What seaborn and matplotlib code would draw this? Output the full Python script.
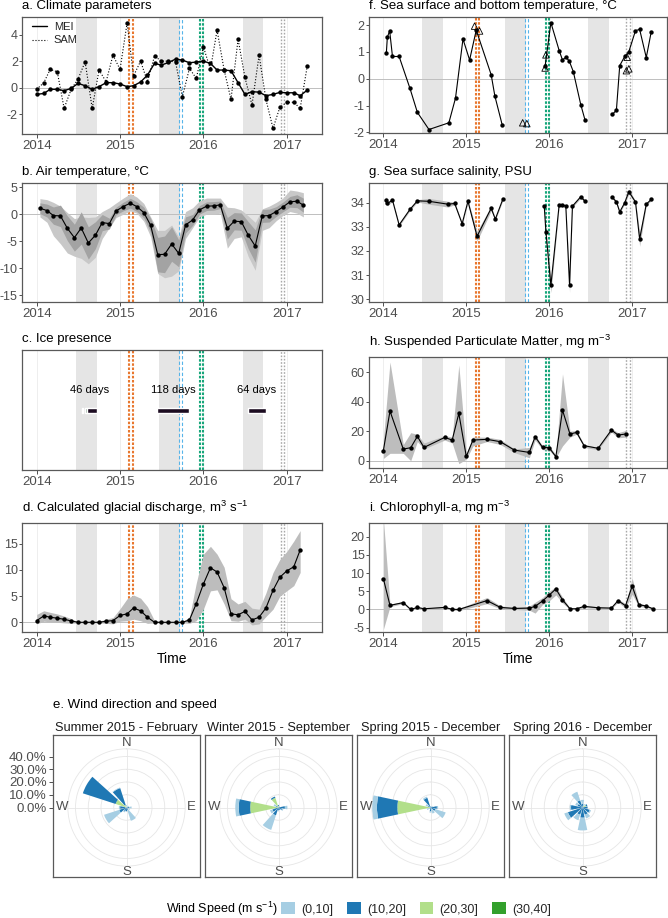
import numpy as np
import pandas as pd
import seaborn as sns
import matplotlib.pyplot as plt
from matplotlib.lines import Line2D
from matplotlib.patches import Patch

sns.set_theme(style='white')
plt.rcParams['font.family'] = ['Liberation Sans', 'DejaVu Sans']
plt.rcParams['mathtext.default'] = 'regular'
plt.rcParams['axes.unicode_minus'] = False

W, H = 668, 918

# ---------------- data ----------------
year_ticks = [2014, 2015, 2016, 2017]
winter_start = [2014.47, 2015.47, 2016.47]
winter_end = [2014.72, 2015.72, 2016.72]

# wind periods (Feb 2015, Sep 2015, Dec 2015, Dec 2016)
period_start = [2015.112, 2015.703, 2015.956, 2016.928]
period_end = [2015.153, 2015.743, 2015.996, 2016.968]
period_color = ['#E8772E', '#56B4E9', '#16A67A', '#A8A8A8']
period_style = [(0, (1.2, 0.8)), (0, (3, 2)), (0, (1.2, 0.8)), (0, (1.2, 1.2))]
period_lw = [1.5, 0.8, 1.5, 1.0]

# a. climate indices, monthly from Jan 2014
mei = [-0.5, -0.43, -0.12, -0.12, -0.22, -0.05, 0.33, 0.15, -0.12, 0.08,
       0.38, 0.38, 0.28, 0.08, 0.15, 0.43, 0.95, 1.83, 1.7, 1.9,
       2.15, 2.08, 1.88, 1.93, 2.0, 1.83, 1.33, 1.33, 1.28, 0.38,
       -0.5, -0.3, -0.33, -0.6, -0.5, -0.35, -0.38, -0.38, -0.6, -0.18]
sam = [-0.12, 0.38, 1.38, 1.2, -1.55, -0.12, 0.65, 1.95, -1.55, 1.33,
       0.45, 2.45, 1.38, 4.88, 0.88, 2.0, 0.45, 2.38, 2.0, 2.0,
       1.95, -0.68, 1.45, 0.7, 3.08, 1.38, 4.33, 1.33, -0.88, 3.65,
       0.78, -1.3, 2.45, -0.88, -3.05, -1.48, -1.1, -1.1, -1.55, 1.63]

# b. air temperature, monthly means (mid-month) Jan 2014 - Mar 2017
air = [1.12, 0.68, -0.25, -0.31, -2.6, -4.35, -2.55, -5.34, -3.9, -1.55,
       -1.74, 0.62, 1.43, 2.05, 1.43, 0.31, -2.05, -7.5, -7.45, -5.53,
       -7.27, -1.99, -1.06, 0.81, 1.49, 1.55, 1.74, -2.6, -1.3, -1.37,
       -3.85, -5.9, -0.31, -0.25, 0.5, 1.37, 2.3, 2.42, 1.68]
air_lo = [-0.5, -1.5, -4.0, -5.5, -7.2, -7.8, -8.2, -9.2, -8.0, -4.5,
          -2.5, -0.6, 0.0, 0.6, 0.2, -1.3, -4.2, -11.0, -11.8, -11.5,
          -10.5, -4.5, -2.5, -0.5, 0.0, 0.0, 0.2, -6.3, -4.5, -4.2,
          -7.8, -10.4, -3.0, -2.5, -1.2, -0.2, 0.5, 0.2, -0.5]
air_hi = [2.9, 2.7, 2.2, 1.5, 0.3, -0.8, -0.5, -0.6, -0.5, 0.5,
          1.2, 2.1, 3.0, 3.8, 3.2, 2.0, -0.5, -3.0, -3.0, -2.0,
          -4.2, 0.5, 1.2, 2.5, 3.0, 3.0, 3.0, 1.3, 1.2, 0.8,
          -0.3, -1.5, 1.0, 1.5, 2.2, 3.0, 4.5, 4.3, 4.0]
air_sd = [1.0, 1.2, 1.6, 2.0, 2.3, 2.5, 3.0, 3.0, 2.5, 1.5,
          1.0, 0.7, 0.8, 0.9, 0.9, 1.0, 1.3, 3.2, 3.4, 3.2,
          2.5, 1.5, 1.0, 0.8, 0.8, 0.8, 0.7, 2.0, 1.6, 1.6,
          2.5, 3.0, 1.2, 1.2, 0.9, 0.9, 1.0, 1.2, 1.3]

# c. ice presence periods
ice_start = [2014.432, 2014.540, 2014.580, 2014.608, 2014.748, 2015.448, 2016.540]
ice_end = [2014.448, 2014.560, 2014.600, 2014.720, 2014.760, 2015.828, 2016.750]
ice_color = ['#B5B5B5', '#2A1830', '#6F8F78', '#1C0C21', '#B5B5B5', '#1C0C21', '#1C0C21']
ice_label = ['46 days', '118 days', '64 days']
ice_label_x = [2014.64, 2015.64, 2016.64]

# d. glacial discharge, monthly Jan 2014 - Mar 2017
dis = [0.32, 1.23, 0.97, 0.78, 0.58, 0.26, 0, 0, 0, 0,
       0.2, 0.32, 1.3, 1.62, 2.73, 2.2, 0.97, 0, 0, 0,
       0, 0, 0.45, 3.57, 7.3, 10.4, 9.6, 6.6, 1.62, 1.43,
       2.08, 0.45, 0.97, 2.73, 6.1, 8.6, 9.8, 10.6, 13.8]
dis_lo = [-0.3, 0.2, 0.1, 0.0, -0.1, -0.2, -0.1, -0.1, -0.1, -0.1,
          -0.2, -0.3, 0.2, 0.3, 0.6, 0.3, -0.2, -0.1, -0.1, -0.1,
          -0.1, -0.1, -0.2, 0.3, 2.5, 6.0, 6.2, 3.5, 0.3, 0.2,
          0.6, -0.5, -0.3, 1.1, 2.5, 5.0, 6.0, 7.0, 9.5]
dis_hi = [1.5, 2.2, 1.9, 1.6, 1.2, 0.7, 0.1, 0.1, 0.1, 0.2,
          0.6, 0.9, 2.6, 4.5, 5.2, 4.6, 3.0, 0.3, 0.1, 0.1,
          0.1, 0.1, 1.0, 7.5, 13.0, 14.5, 13.0, 10.5, 4.5, 3.5,
          4.0, 2.7, 2.5, 5.6, 9.5, 12.0, 13.5, 15.5, 17.5]

# f. sea surface temperature (filled) and bottom temperature (triangles)
sst_t = [2014.036, 2014.048, 2014.076, 2014.11, 2014.19, 2014.32, 2014.41, 2014.55,
         2014.79, 2014.87, 2014.96, 2015.04, 2015.12, 2015.30, 2015.345, 2015.434,
         2015.95, 2016.02, 2016.12, 2016.16, 2016.20, 2016.24, 2016.29, 2016.38, 2016.43,
         2016.76, 2016.81, 2016.85, 2016.91, 2016.96, 2017.04, 2017.09, 2017.17, 2017.23]
sst_v = [0.95, 1.54, 1.79, 0.83, 0.83, -0.35, -1.25, -1.89,
         -1.64, -0.72, 1.48, 0.70, 1.81, 0.15, -0.65, -1.73,
         0.46, 2.09, 1.05, 0.70, 0.80, 0.67, 0.27, -0.96, -1.52,
         -1.33, -1.17, 0.49, 0.83, 1.01, 1.79, 1.84, 0.79, 1.75]
sst_seg = [0] * 16 + [1] * 9 + [2] * 9
bt_t = [2015.10, 2015.16, 2015.68, 2015.73, 2015.95, 2015.96, 2016.93, 2016.96, 2016.94]
bt_v = [1.96, 1.78, -1.64, -1.67, 0.40, 0.89, 0.30, 0.37, 0.80]

# g. sea surface salinity
sal_t = [2014.03, 2014.05, 2014.11, 2014.19, 2014.32, 2014.41, 2014.55, 2014.78,
         2014.86, 2014.95, 2015.02, 2015.13, 2015.30, 2015.35, 2015.44,
         2015.94, 2015.96, 2016.02, 2016.12, 2016.16, 2016.20, 2016.245, 2016.28,
         2016.38, 2016.43,
         2016.76, 2016.81, 2016.85, 2016.91, 2016.96, 2017.04, 2017.09, 2017.17, 2017.23]
sal_v = [34.11, 33.97, 34.11, 33.08, 33.72, 34.08, 34.06, 33.94,
         33.97, 33.13, 34.06, 32.61, 33.77, 33.32, 34.14,
         33.86, 32.8, 30.57, 33.92, 33.92, 33.86, 30.57, 33.86,
         34.25, 34.07,
         34.22, 34.04, 33.62, 34.0, 34.46, 34.03, 32.49, 33.94, 34.14]
sal_sd = [0.15, 0.1, 0.05, 0.05, 0.05, 0.05, 0.12, 0.12,
          0.05, 0.05, 0.05, 0.2, 0.1, 0.05, 0.05,
          0.05, 0.1, 0.3, 0.05, 0.05, 0.05, 0.3, 0.05,
          0.05, 0.05,
          0.05, 0.05, 0.05, 0.05, 0.1, 0.05, 0.3, 0.05, 0.05]
sal_seg = [0] * 15 + [1] * 10 + [2] * 9

# h. suspended particulate matter
spm_t = [2014.0, 2014.08, 2014.24, 2014.33, 2014.41, 2014.49, 2014.74, 2014.83, 2014.91,
         2015.0, 2015.08, 2015.25, 2015.41, 2015.58, 2015.76, 2015.83, 2015.92, 2016.0,
         2016.08, 2016.16, 2016.25, 2016.33, 2016.42, 2016.59, 2016.75, 2016.83, 2016.92]
spm_v = [6.8, 33.7, 7.9, 8.8, 16.5, 9.0, 15.8, 14.0, 32.1,
         2.9, 14.0, 14.5, 12.9, 7.2, 5.6, 16.3, 9.0, 8.8,
         2.7, 34.3, 18.1, 19.2, 10.2, 8.4, 20.8, 17.4, 18.1]
spm_lo = [1.5, 5, 5, 0, 13, 8, 14, 12, -2,
          1, 10, 13, 11, 5.5, 2, 14, 7.5, 7,
          2, 10, 16, 18, 9, 7.5, 19.5, 15.5, 16]
spm_hi = [14, 67, 11, 19, 18, 12, 17, 16, 65,
          5, 16, 16, 14.5, 8, 9, 17.5, 10, 10,
          4, 59, 20, 20.5, 11, 9, 22, 19, 20.5]

# i. chlorophyll-a
chl_t = [2014.0, 2014.08, 2014.24, 2014.33, 2014.41, 2014.49, 2014.74, 2014.83, 2014.91,
         2015.25, 2015.41, 2015.58, 2015.76, 2015.83, 2015.92, 2016.0, 2016.08, 2016.16,
         2016.25, 2016.33, 2016.42, 2016.59, 2016.75, 2016.83, 2016.92, 2017.0, 2017.08,
         2017.17, 2017.25]
chl_v = [8.5, 1.13, 1.89, 0.0, 0.57, 0.19, 0.57, 0.05, 0.0,
         2.45, 0.57, 0.28, 0.38, 0.85, 2.36, 3.96, 5.66, 2.64,
         0.19, 0.19, 0.85, 0.47, 0.38, 2.45, 1.04, 6.42, 1.32,
         0.94, 0.19]
chl_lo = [-5.5, 0.8, 1.6, -0.2, 0.4, 0.0, 0.4, -0.15, -0.3,
          1.6, 0.2, 0.0, -0.2, -1.0, 1.4, 2.4, 4.0, 1.8,
          0.0, 0.0, 0.5, 0.3, 0.2, 2.0, 0.4, 4.2, 0.8,
          0.6, 0.0]
chl_hi = [25.0, 1.5, 2.2, 0.2, 0.8, 0.4, 0.8, 0.25, 0.3,
          3.3, 1.0, 0.6, 0.9, 2.0, 3.3, 5.0, 6.3, 3.4,
          0.4, 0.4, 1.2, 0.7, 0.6, 2.9, 1.6, 8.6, 1.8,
          1.2, 0.4]

# e. wind roses: % of time per direction sector, rows = speed classes
wind_dirs = [0, 30, 60, 90, 120, 150, 180, 210, 240, 270, 300, 330]
speed_bins = ['(0,10]', '(10,20]', '(20,30]', '(30,40]']
speed_colors = ['#A6CEE3', '#1F78B4', '#B2DF8A', '#33A02C']
wind_feb2015 = [[2, 1, 2, 2, 2, 9, 0, 1, 12.5, 1, 0, 0.5],
                [0, 0, 0, 2, 1, 2, 3, 3, 6, 4, 27, 14],
                [0, 0, 0, 0, 0, 0, 0, 0, 0, 1, 9, 2],
                [0, 0, 0, 0, 0, 0, 0, 0, 0, 0, 0, 0]]
wind_sep2015 = [[0, 1, 0, 2, 1, 0, 1, 12, 2, 2.7, 2, 0],
                [1, 0, 1, 5, 3, 2, 2, 6.5, 5, 9, 1, 1],
                [1, 0, 0, 0, 0, 0, 0, 0, 0, 21.7, 1, 8],
                [0, 0, 0, 0, 0, 0, 0, 0, 0, 0.5, 0, 0]]
wind_dec2015 = [[0, 0, 1, 1, 8.5, 4, 1, 0, 2, 3.7, 2, 1],
                [1, 0, 1, 5, 4, 1, 3, 1, 1, 16, 1, 8],
                [0, 0, 0, 0, 0, 0, 0, 0, 0, 26, 1, 0],
                [0, 0, 0, 0, 0, 0, 0, 0, 0, 0, 0, 0]]
wind_dec2016 = [[3, 2, 0, 0, 1, 3, 10, 4.5, 3, 1, 2, 7],
                [3, 0, 1, 4, 6, 6, 8, 6, 12, 9, 4, 6],
                [0, 1, 3, 0, 0, 0, 0, 0, 0, 0, 0, 0],
                [0, 0, 0, 0, 0, 0, 0, 0, 0, 0, 0, 0]]
wind_titles = ['Summer 2015 - February', 'Winter 2015 - September',
               'Spring 2015 - December', 'Spring 2016 - December']


def decyear(d):
    return np.asarray(d.year + (d.dayofyear - 1) / 365.0, dtype=float)


t_clim = decyear(pd.date_range('2014-01-01', periods=40, freq='MS'))
t_air = decyear(pd.date_range('2014-01-01', periods=39, freq='MS') + pd.Timedelta(days=14))
t_dis = decyear(pd.date_range('2014-01-01', periods=39, freq='MS'))


def px_rect(x0, y0, x1, y1):
    return [x0 / W, 1 - y1 / H, (x1 - x0) / W, (y1 - y0) / H]


def style_ts(ax, title, ylim, yticks, pad=5.5, zero=True, time_label=False):
    for s, e in zip(winter_start, winter_end):
        ax.axvspan(s, e, color='#E5E5E5', lw=0, zorder=0)
    for yr in year_ticks:
        ax.axvline(yr, color='#EBEBEB', lw=0.6, zorder=0.5)
    if zero:
        ax.axhline(0, color='#BEBEBE', lw=0.7, zorder=1)
    for s, e, c, ls, lw in zip(period_start, period_end, period_color, period_style, period_lw):
        for xv in (s, e):
            ax.axvline(xv, color=c, ls=ls, lw=lw, zorder=1.5)
    ax.set_xlim(2013.827, 2017.42)
    ax.set_ylim(*ylim)
    ax.set_xticks(year_ticks)
    ax.set_xticklabels([str(y) for y in year_ticks])
    ax.set_yticks(yticks)
    ax.set_yticklabels([str(v) for v in yticks])
    ax.set_title(title, loc='left', fontsize=9.5, pad=pad, color='black')
    ax.set_ylabel('')
    if time_label:
        ax.set_xlabel('Time', fontsize=10, labelpad=1, color='black')
    else:
        ax.set_xlabel('')
    ax.tick_params(axis='x', direction='out', length=3, width=0.6, color='#333333',
                   labelcolor='#4D4D4D', labelsize=9.5, pad=1.5, bottom=True)
    ax.tick_params(axis='y', direction='out', length=2.2, width=0.6, color='#333333',
                   labelcolor='#4D4D4D', labelsize=9, pad=1, left=True)
    for sp in ax.spines.values():
        sp.set_color('#595959')
        sp.set_linewidth(0.9)


def points(ax, x, y):
    sns.scatterplot(x=x, y=y, color='black', s=10, linewidth=0, ax=ax, zorder=4)


fig = plt.figure(figsize=(W / 100, H / 100), dpi=100)

# ---- a. climate parameters ----
ax = fig.add_axes(px_rect(22.3, 17, 321.7, 134))
sns.lineplot(x=t_clim, y=mei, color='black', lw=1.0, estimator=None, ax=ax, zorder=3)
sns.lineplot(x=t_clim, y=sam, color='black', lw=0.8, ls=':', estimator=None, ax=ax, zorder=3)
points(ax, t_clim, mei)
points(ax, t_clim, sam)
style_ts(ax, 'a. Climate parameters', (-3.48, 5.32), [-2, 0, 2, 4])
ax.legend(handles=[Line2D([], [], color='black', lw=1.0),
                   Line2D([], [], color='black', lw=0.8, ls=':')],
          labels=['MEI', 'SAM'], loc='upper left', bbox_to_anchor=(0.024, 0.98),
          frameon=False, fontsize=8, handlelength=1.4, handletextpad=0.6,
          labelspacing=0.35, borderaxespad=0, borderpad=0.2)

# ---- b. air temperature ----
ax = fig.add_axes(px_rect(22.3, 183, 321.7, 302))
ax.fill_between(t_air, air_lo, air_hi, color='#C8C8C8', lw=0, zorder=2)
ax.fill_between(t_air, np.array(air) - np.array(air_sd), np.array(air) + np.array(air_sd),
                color='#A3A3A3', lw=0, zorder=2.2)
sns.lineplot(x=t_air, y=air, color='black', lw=0.8, estimator=None, ax=ax, zorder=3)
points(ax, t_air, air)
style_ts(ax, 'b. Air temperature, °C', (-16.3, 5.8), [-15, -10, -5, 0, 5])

# ---- c. ice presence ----
ax = fig.add_axes(px_rect(22.3, 350, 321.7, 470))
for s, e, c in zip(ice_start, ice_end, ice_color):
    ax.broken_barh([(s, e - s)], (0.473, 0.042), facecolors=c, zorder=3)
for lab, xv in zip(ice_label, ice_label_x):
    ax.text(xv, 0.667, lab, ha='center', va='center', fontsize=8, color='black', zorder=4)
style_ts(ax, 'c. Ice presence', (0, 1), [], zero=False)
ax.tick_params(left=False)

# ---- d. glacial discharge ----
ax = fig.add_axes(px_rect(22.3, 523, 321.7, 632))
ax.fill_between(t_dis, dis_lo, dis_hi, color='#BDBDBD', lw=0, zorder=2)
sns.lineplot(x=t_dis, y=dis, color='black', lw=0.8, estimator=None, ax=ax, zorder=3)
points(ax, t_dis, dis)
style_ts(ax, r'd. Calculated glacial discharge, m$^3$ s$^{-1}$', (-1.85, 18.95),
         [0, 5, 10, 15], pad=8, time_label=True)

# ---- f. sea surface and bottom temperature ----
ax = fig.add_axes(px_rect(369, 17, 667, 133))
sst_df = pd.DataFrame({'t': sst_t, 'v': sst_v, 'seg': sst_seg})
sns.lineplot(data=sst_df, x='t', y='v', units='seg', estimator=None, sort=False,
             color='black', lw=0.8, ax=ax, zorder=3)
points(ax, sst_t, sst_v)
sns.scatterplot(x=bt_t, y=bt_v, marker='^', s=22, color='none', edgecolor='black',
                linewidth=0.6, ax=ax, zorder=4)
style_ts(ax, 'f. Sea surface and bottom temperature, °C', (-2.02, 2.3), [-2, -1, 0, 1, 2])

# ---- g. salinity ----
ax = fig.add_axes(px_rect(369, 183, 667, 302))
sal_df = pd.DataFrame({'t': sal_t, 'v': sal_v, 'sd': sal_sd, 'seg': sal_seg})
for seg, part in sal_df.groupby('seg'):
    ax.fill_between(part['t'], part['v'] - part['sd'], part['v'] + part['sd'],
                    color='#BDBDBD', lw=0, zorder=2)
sns.lineplot(data=sal_df, x='t', y='v', units='seg', estimator=None, sort=False,
             color='black', lw=0.8, ax=ax, zorder=3)
points(ax, sal_t, sal_v)
style_ts(ax, 'g. Sea surface salinity, PSU', (29.88, 34.82), [30, 31, 32, 33, 34], zero=False)

# ---- h. SPM ----
ax = fig.add_axes(px_rect(369, 357, 667, 468))
ax.fill_between(spm_t, spm_lo, spm_hi, color='#BDBDBD', lw=0, zorder=2)
sns.lineplot(x=spm_t, y=spm_v, color='black', lw=0.8, estimator=None, ax=ax, zorder=3)
points(ax, spm_t, spm_v)
style_ts(ax, r'h. Suspended Particulate Matter, mg m$^{-3}$', (-4.96, 70.4),
         [0, 20, 40, 60], pad=8)

# ---- i. chlorophyll ----
ax = fig.add_axes(px_rect(369, 523, 667, 632))
ax.fill_between(chl_t, chl_lo, chl_hi, color='#BDBDBD', lw=0, zorder=2)
sns.lineplot(x=chl_t, y=chl_v, color='black', lw=0.8, estimator=None, ax=ax, zorder=3)
points(ax, chl_t, chl_v)
style_ts(ax, r'i. Chlorophyll-a, mg m$^{-3}$', (-6.2, 23.8),
         [-5, 0, 5, 10, 15, 20], pad=8, time_label=True)

# ---- e. wind roses ----
fig.text(53 / W, 1 - 708 / H, 'e. Wind direction and speed', fontsize=9.5,
         va='baseline', ha='left', color='black')
px_per_pct = 1.275
rmax = 46
box_lefts = [53, 205, 357, 509]
wind_data = [wind_feb2015, wind_sep2015, wind_dec2015, wind_dec2016]
cy = 807.5
for k, (x0, data) in enumerate(zip(box_lefts, wind_data)):
    x1 = x0 + 147
    box = fig.add_axes(px_rect(x0, 735, x1, 877))
    box.set_xlim(0, 1)
    box.set_ylim(-(877 - cy) / px_per_pct, (cy - 735) / px_per_pct)
    box.set_xticks([])
    if k == 0:
        box.set_yticks([0, 10, 20, 30, 40])
        box.set_yticklabels(['0.0%', '10.0%', '20.0%', '30.0%', '40.0%'])
        box.tick_params(axis='y', left=True, direction='out', length=3, width=0.6,
                        color='#333333', labelcolor='#4D4D4D', labelsize=9.5, pad=1.5)
    else:
        box.set_yticks([])
    box.set_title(wind_titles[k], fontsize=9.2, pad=3, color='#1A1A1A')
    for sp in box.spines.values():
        sp.set_color('#595959')
        sp.set_linewidth(0.9)

    cx = (x0 + x1) / 2
    R = rmax * px_per_pct
    pax = fig.add_axes(px_rect(cx - R, cy - R, cx + R, cy + R), projection='polar')
    pax.patch.set_alpha(0)
    pax.set_theta_zero_location('N')
    pax.set_theta_direction(-1)
    theta = np.deg2rad(wind_dirs)
    bottom = np.zeros(len(wind_dirs))
    for level in [3, 2, 1, 0]:
        vals = np.array(data[level], dtype=float)
        pax.bar(theta, vals, width=np.deg2rad(24), bottom=bottom,
                color=speed_colors[level], edgecolor='none', zorder=3)
        bottom += vals
    pax.set_ylim(0, rmax)
    pax.set_yticks([10, 20, 30, 40])
    pax.set_yticklabels([])
    pax.set_xticks(np.deg2rad([0, 90, 180, 270]))
    pax.set_xticklabels([])
    pax.grid(True, color='#E6E6E6', lw=0.6)
    pax.spines['polar'].set_color('#E6E6E6')
    pax.spines['polar'].set_linewidth(0.6)
    for ang, lab in zip([0, 90, 180, 270], ['N', 'E', 'S', 'W']):
        pax.text(np.deg2rad(ang), 50.5, lab, ha='center', va='center',
                 fontsize=9.5, color='#4D4D4D')

fig.text(166 / W, 1 - 909 / H, r'Wind Speed (m s$^{-1}$)', fontsize=9,
         va='center', ha='left', color='black')
fig.legend(handles=[Patch(facecolor=c, edgecolor='none') for c in speed_colors],
           labels=speed_bins, loc='center left', bbox_to_anchor=(281 / W, 1 - 909 / H),
           ncol=4, frameon=False, fontsize=9, handlelength=1.1, handleheight=1.1,
           handletextpad=0.5, columnspacing=1.1, borderpad=0, borderaxespad=0)

fig.savefig('out.png', dpi=100)
